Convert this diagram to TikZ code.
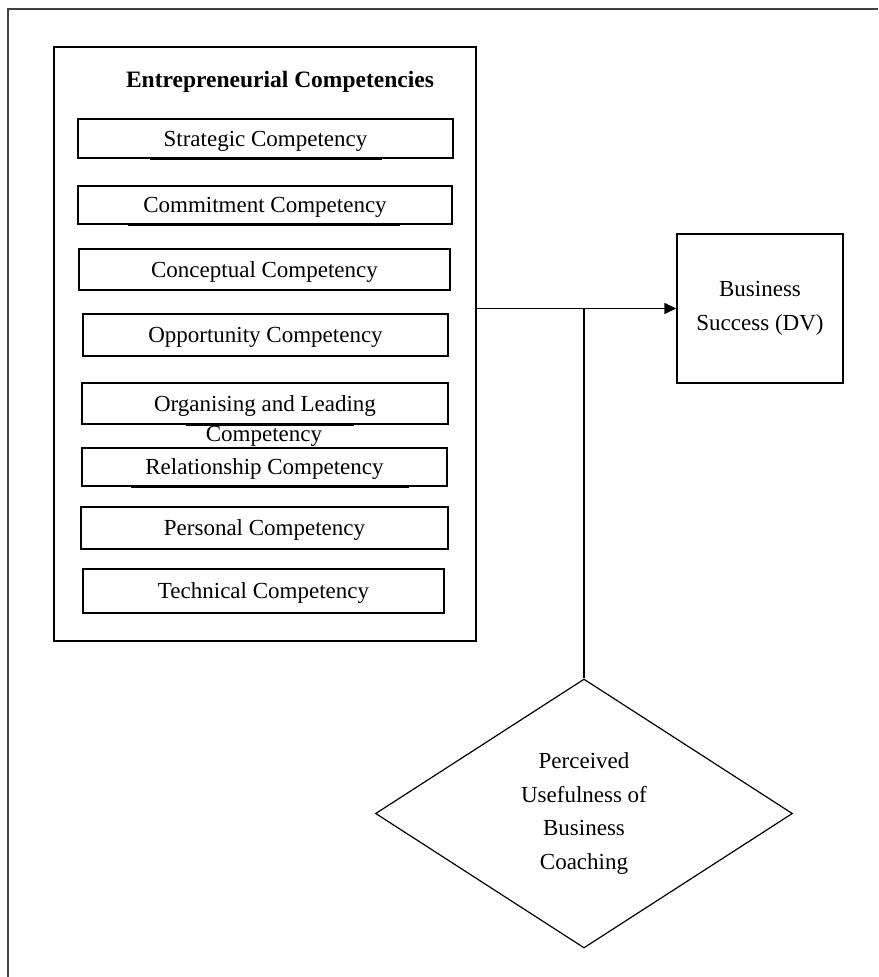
\documentclass[tikz,border=0pt]{standalone}
\usepackage{fontspec}
\setmainfont{Liberation Serif}
\usetikzlibrary{shapes.geometric,arrows.meta}
\begin{document}
\begin{tikzpicture}[x=1pt,y=-1pt,
  every node/.style={font=\fontsize{23}{33.5}\selectfont, inner sep=0pt},
  frame/.style={draw=black!75, line width=1.4pt},
  outerbox/.style={draw, line width=1.5pt, rectangle},
  compbox/.style={draw, line width=1.4pt, rectangle, text depth=0pt},
  underbar/.style={line width=3pt},
  link/.style={draw, line width=1.4pt},
  moderator/.style={draw, diamond, line width=1.2pt, align=center}
]
\useasboundingbox (0,0) rectangle (878,977);

% page frame (top and left rules)
\draw[frame] (8,977) -- (8,9) -- (878,9);

% independent variable block
\node[outerbox, minimum width=422, minimum height=594] (main) at (265,344) {};
\node[font=\fontsize{23.5}{28}\selectfont\bfseries] (title) at (280,82) {Entrepreneurial Competencies};

\node[compbox, minimum width=375, minimum height=39] (c1) at (265.5,138.5) {Strategic Competency};
\node[compbox, minimum width=374, minimum height=38] (c2) at (265,205) {Commitment Competency};
\node[compbox, minimum width=371, minimum height=41] (c3) at (264.5,269.5) {Conceptual Competency};
\node[compbox, minimum width=365, minimum height=42] (c4) at (265.5,335) {Opportunity Competency};
\node[compbox, minimum width=366, minimum height=41] (c5) at (265,403.5) {Organising and Leading};
\node (c5b) at (264,436) {Competency};
\node[compbox, minimum width=365, minimum height=38] (c6) at (264.5,467) {Relationship Competency};
\node[compbox, minimum width=367, minimum height=42] (c7) at (264.5,528) {Personal Competency};
\node[compbox, minimum width=361, minimum height=44] (c8) at (263.5,591) {Technical Competency};

% heavier strokes along some box bottoms
\draw[underbar] (150,158) -- (382,158);
\draw[underbar] (128,224) -- (400,224);
\draw[underbar] (186,424) -- (354,424);
\draw[underbar] (131,486) -- (409,486);

% dependent variable
\node[compbox, text depth=, minimum width=166, minimum height=149, align=center] (dv) at (760,308.5) {Business\\Success (DV)};

% moderator
\node[moderator, minimum width=417, minimum height=269] (mod) at (584,813.5)
  {Perceived\\Usefulness of\\Business\\Coaching};

% connectors
\coordinate (j) at (mod.north |- dv.west);
\draw[link, -{Triangle[length=12pt,width=11pt]}] (main.east |- dv.west) -- (dv.west);
\draw[link] (j) -- (mod.north);
\end{tikzpicture}
\end{document}
